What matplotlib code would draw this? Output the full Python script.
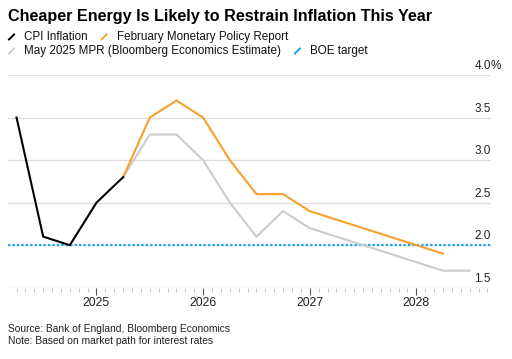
import matplotlib
matplotlib.use("Agg")
import matplotlib.pyplot as plt
from matplotlib.lines import Line2D
from matplotlib.ticker import MultipleLocator
import matplotlib.transforms as mtransforms

plt.rcParams['font.family'] = ['Liberation Sans', 'DejaVu Sans']

# quarterly points, as decimal years
cpi_x = [2024.25, 2024.5, 2024.75, 2025.0, 2025.25]
cpi_y = [3.5, 2.1, 2.0, 2.5, 2.8]

feb_x = [2025.25, 2025.5, 2025.75, 2026.0, 2026.25, 2026.5, 2026.75,
         2027.0, 2027.25, 2027.5, 2027.75, 2028.0, 2028.25]
feb_y = [2.8, 3.5, 3.7, 3.5, 3.0, 2.6, 2.6, 2.4, 2.3, 2.2, 2.1, 2.0, 1.9]

may_x = [2025.25, 2025.5, 2025.75, 2026.0, 2026.25, 2026.5, 2026.75,
         2027.0, 2027.25, 2027.5, 2027.75, 2028.0, 2028.25, 2028.5]
may_y = [2.8, 3.3, 3.3, 3.0, 2.5, 2.1, 2.4, 2.2, 2.1, 2.0, 1.9, 1.8, 1.7, 1.7]

boe_target = 2.0

years = [2025, 2026, 2027, 2028]
y_ticks = [1.5, 2.0, 2.5, 3.0, 3.5, 4.0]

labels = ["CPI Inflation", "February Monetary Policy Report",
          "May 2025 MPR (Bloomberg Economics Estimate)", "BOE target"]
colors = ["#000000", "#f7a02c", "#cccccc", "#1aa3f0"]

fig = plt.figure(figsize=(5.12, 3.59), dpi=100)
ax = fig.add_axes([8 / 512, 1 - 287.7 / 359, (491 - 8) / 512, (287.7 - 75) / 359])

ax.set_xlim(2024.17, 2028.70)
ax.set_ylim(1.5, 4.0)

for v in y_ticks:
    ax.axhline(v, color="#dddddd", lw=0.9, zorder=0)

ax.axhline(boe_target, color=colors[3], lw=1.6, ls=(0, (1, 1)), zorder=1)
ax.plot(may_x, may_y, color=colors[2], lw=1.5, zorder=2, solid_joinstyle="miter")
ax.plot(feb_x, feb_y, color=colors[1], lw=1.5, zorder=3, solid_joinstyle="miter")
ax.plot(cpi_x, cpi_y, color=colors[0], lw=1.5, zorder=4, solid_joinstyle="miter")

for s in ax.spines.values():
    s.set_visible(False)

ax.set_yticks([])
ax.set_xticks(years)
ax.set_xticklabels([str(y) for y in years], fontsize=8.8, color="#222222")
ax.xaxis.set_minor_locator(MultipleLocator(1 / 12))
ax.tick_params(axis="x", which="major", length=5, width=0.8, color="#555555", pad=2)
ax.tick_params(axis="x", which="minor", length=3, width=0.6, color="#bbbbbb")

# y labels sitting above gridlines on the right
trans = mtransforms.blended_transform_factory(ax.transAxes, ax.transData)
off = mtransforms.offset_copy(trans, fig=fig, x=0, y=2, units="points")
for v in y_ticks:
    ax.text(1.0, v, f"{v:.1f}", transform=off, ha="right", va="bottom",
            fontsize=8.5, color="#222222")
ax.text(1.0, 4.0, "%", transform=off, ha="left", va="bottom",
        fontsize=8.5, color="#222222")

fig.text(8 / 512, 1 - 16 / 359, "Cheaper Energy Is Likely to Restrain Inflation This Year",
         fontsize=11.6, fontweight="bold", va="center", ha="left")

# legend laid out in flowing rows
renderer = fig.canvas.get_renderer()
rows = [[0, 1], [2, 3]]
row_y = [37, 51]
for r, idx in enumerate(rows):
    x = 9
    yc = 1 - row_y[r] / 359
    for i in idx:
        fig.add_artist(Line2D([(x) / 512, (x + 5) / 512],
                              [yc - 2.5 / 359, yc + 2.5 / 359],
                              color=colors[i], lw=1.4, transform=fig.transFigure))
        t = fig.text((x + 15) / 512, yc, labels[i], fontsize=8.4, va="center",
                     ha="left", color="#111111")
        w = t.get_window_extent(renderer).width
        x = x + 15 + w + 14

fig.text(8 / 512, 1 - 329 / 359, "Source: Bank of England, Bloomberg Economics",
         fontsize=7.4, va="center", ha="left", color="#222222")
fig.text(8 / 512, 1 - 341 / 359, "Note: Based on market path for interest rates",
         fontsize=7.4, va="center", ha="left", color="#222222")

fig.savefig("out.png", dpi=100)
